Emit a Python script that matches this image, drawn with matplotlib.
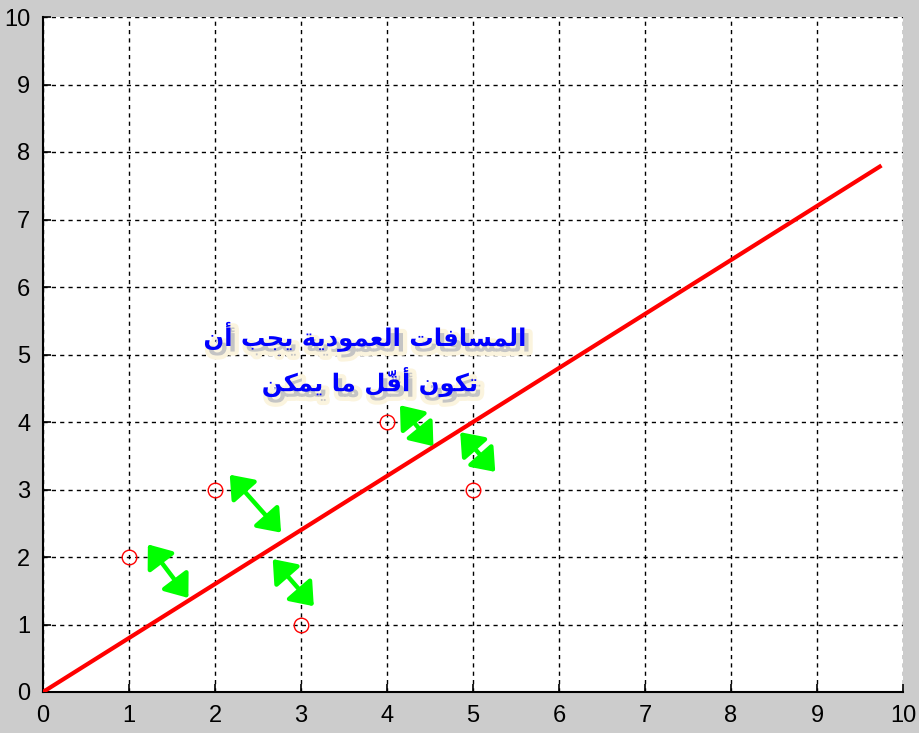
import unicodedata
import matplotlib
matplotlib.use('Agg')
import matplotlib.pyplot as plt
import matplotlib.patheffects as pe
from matplotlib.patches import FancyArrowPatch

# data
pts_x = [1, 2, 3, 4, 5]
pts_y = [2, 3, 1, 4, 3]
line_x = [0, 9.75]
line_y = [0, 7.8]
# green double arrows (start, end)
arrows = [
    ((1.20, 2.22), (1.71, 1.36)),
    ((2.15, 3.25), (2.79, 2.33)),
    ((2.65, 2.00), (3.17, 1.24)),
    ((4.13, 4.28), (4.56, 3.61)),
    ((4.83, 3.88), (5.28, 3.23)),
]
ticks = list(range(0, 11))
label_lines = ['المسافات العمودية يجب أن', 'تكون أقلّ ما يمكن']

# small arabic shaper (matplotlib does not join arabic letters itself)
FORMS = {
    'ا': ('\ufe8d', '\ufe8e', None, None),
    'أ': ('\ufe83', '\ufe84', None, None),
    'ب': ('\ufe8f', '\ufe90', '\ufe91', '\ufe92'),
    'ة': ('\ufe93', '\ufe94', None, None),
    'ت': ('\ufe95', '\ufe96', '\ufe97', '\ufe98'),
    'ج': ('\ufe9d', '\ufe9e', '\ufe9f', '\ufea0'),
    'د': ('\ufea9', '\ufeaa', None, None),
    'س': ('\ufeb1', '\ufeb2', '\ufeb3', '\ufeb4'),
    'ع': ('\ufec9', '\ufeca', '\ufecb', '\ufecc'),
    'ف': ('\ufed1', '\ufed2', '\ufed3', '\ufed4'),
    'ق': ('\ufed5', '\ufed6', '\ufed7', '\ufed8'),
    'ك': ('\ufed9', '\ufeda', '\ufedb', '\ufedc'),
    'ل': ('\ufedd', '\ufede', '\ufedf', '\ufee0'),
    'م': ('\ufee1', '\ufee2', '\ufee3', '\ufee4'),
    'ن': ('\ufee5', '\ufee6', '\ufee7', '\ufee8'),
    'و': ('\ufeed', '\ufeee', None, None),
    'ي': ('\ufef1', '\ufef2', '\ufef3', '\ufef4'),
}
LAM_ALEF = {'ا': ('\ufefb', '\ufefc'), 'أ': ('\ufef7', '\ufef8')}


def shape(text):
    clusters = []
    for c in text:
        if unicodedata.combining(c) and clusters:
            clusters[-1][1] += c
        else:
            clusters.append([c, ''])
    n = len(clusters)

    def joins_fwd(k):
        return 0 <= k < n and clusters[k][0] in FORMS and FORMS[clusters[k][0]][2] is not None

    out = []
    i = 0
    while i < n:
        c, marks = clusters[i]
        if c not in FORMS:
            out.append(c + marks)
            i += 1
            continue
        prev = joins_fwd(i - 1)
        if c == 'ل' and i + 1 < n and clusters[i + 1][0] in LAM_ALEF:
            out.append(LAM_ALEF[clusters[i + 1][0]][1 if prev else 0] + marks + clusters[i + 1][1])
            i += 2
            continue
        nxt = FORMS[c][2] is not None and i + 1 < n and clusters[i + 1][0] in FORMS
        iso, fin, ini, med = FORMS[c]
        if prev and nxt:
            g = med
        elif prev:
            g = fin
        elif nxt:
            g = ini
        else:
            g = iso
        out.append(g + marks)
        i += 1
    return ''.join(reversed(out))


fig = plt.figure(figsize=(9.19, 7.33), dpi=100, facecolor='#cccccc')
ax = fig.add_axes([43 / 919, 1 - 692 / 733, 860 / 919, 675 / 733])
ax.set_facecolor('white')

ax.set_xlim(0, 10)
ax.set_ylim(0, 10)
ax.set_xticks(ticks)
ax.set_yticks(ticks)
ax.grid(True, color='black', linestyle=(0, (3, 3)), linewidth=1.0)
ax.set_axisbelow(True)
for s in ['top', 'right']:
    ax.spines[s].set_visible(False)
for s in ['left', 'bottom']:
    ax.spines[s].set_linewidth(1.5)
ax.tick_params(direction='in', length=6, width=1.2, labelsize=17, pad=9)
for lab in ax.get_xticklabels() + ax.get_yticklabels():
    lab.set_fontfamily('Liberation Sans')

ax.plot(line_x, line_y, color='red', linewidth=3, solid_capstyle='butt', zorder=3)
ax.plot(pts_x, pts_y, 'o', markerfacecolor='none', markeredgecolor='red',
        markersize=10.5, markeredgewidth=1.0, zorder=4)

for (x0, y0), (x1, y1) in arrows:
    a = FancyArrowPatch((x0, y0), (x1, y1),
                        arrowstyle='<|-|>,head_length=1.3,head_width=1.0',
                        mutation_scale=10, color='#00ff00', linewidth=3.2,
                        shrinkA=2, shrinkB=2, zorder=5)
    ax.add_patch(a)

shadow = [
    pe.Stroke(offset=(3, -4), linewidth=6, foreground='#fbf4de'),
    pe.SimplePatchShadow(offset=(3, -4), shadow_rgbFace='#c4c4c4', alpha=1.0),
    pe.Normal(),
]
for txt, x, y in [(label_lines[0], 3.74, 5.26), (label_lines[1], 3.80, 4.59)]:
    ax.text(x, y, shape(txt), color='#0000ff', fontsize=17.5, fontweight='bold',
            ha='center', va='center', family=['DejaVu Sans'], zorder=7,
            path_effects=shadow)

fig.savefig('out.png', dpi=100, facecolor=fig.get_facecolor())
